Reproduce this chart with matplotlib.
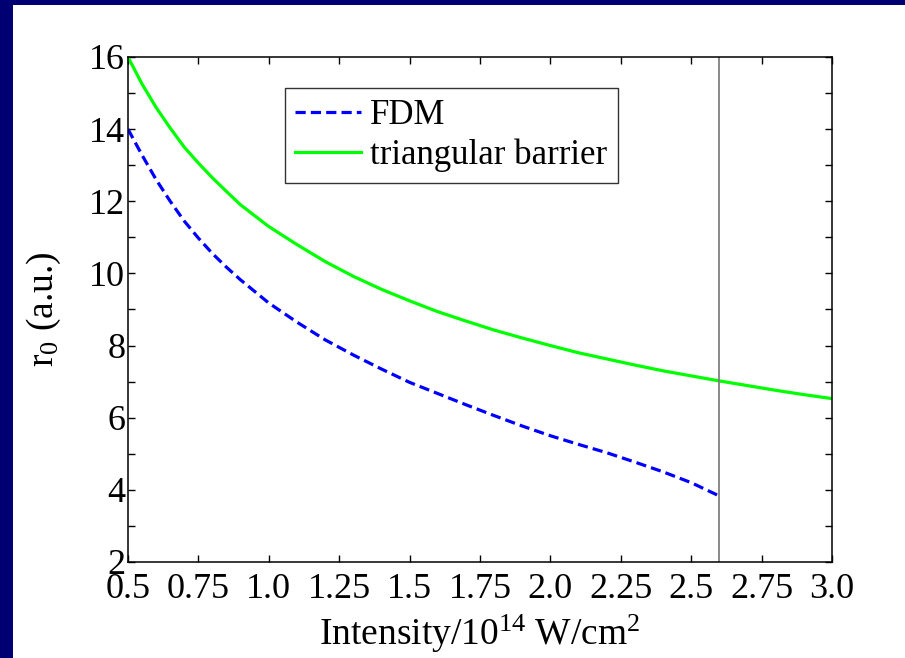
import matplotlib
matplotlib.use("Agg")
import matplotlib.pyplot as plt
from matplotlib.patches import Rectangle

plt.rcParams['font.family'] = ['Liberation Serif', 'DejaVu Serif']
plt.rcParams['mathtext.fontset'] = 'custom'
plt.rcParams['mathtext.rm'] = 'Liberation Serif'
plt.rcParams['mathtext.it'] = 'Liberation Serif:italic'

# laser intensity in units of 1e14 W/cm^2
intensity = [0.5, 0.55, 0.6, 0.65, 0.7, 0.75, 0.8, 0.85, 0.9, 0.95, 1.0, 1.1,
             1.2, 1.3, 1.4, 1.5, 1.6, 1.7, 1.8, 1.9, 2.0, 2.1, 2.2, 2.3, 2.4,
             2.5, 2.6, 2.7, 2.8, 2.9, 3.0]
# tunnel exit r0 (a.u.), triangular barrier estimate
r0_triangular = [16.0, 15.25, 14.6, 14.03, 13.5, 13.06, 12.65, 12.27, 11.9,
                 11.6, 11.3, 10.8, 10.33, 9.92, 9.56, 9.24, 8.94, 8.68, 8.43,
                 8.21, 8.0, 7.8, 7.63, 7.46, 7.30, 7.16, 7.02, 6.89, 6.76,
                 6.64, 6.53]
# FDM result, only up to the barrier-suppression intensity
intensity_fdm = [0.5, 0.55, 0.6, 0.65, 0.7, 0.75, 0.8, 0.85, 0.9, 0.95, 1.0,
                 1.1, 1.2, 1.3, 1.4, 1.5, 1.6, 1.7, 1.8, 1.9, 2.0, 2.1, 2.2,
                 2.3, 2.4, 2.5, 2.6]
r0_fdm = [14.0, 13.28, 12.6, 12.0, 11.45, 10.98, 10.55, 10.17, 9.82, 9.5,
          9.18, 8.65, 8.16, 7.74, 7.35, 6.98, 6.67, 6.36, 6.06, 5.77, 5.5,
          5.26, 5.03, 4.77, 4.50, 4.20, 3.83]
I_bsi = 2.6

xticks = [0.5, 0.75, 1.0, 1.25, 1.5, 1.75, 2.0, 2.25, 2.5, 2.75, 3.0]
xticklabels = ['0.5', '0.75', '1.0', '1.25', '1.5', '1.75', '2.0', '2.25',
               '2.5', '2.75', '3.0']

fig = plt.figure(figsize=(9.05, 6.58), dpi=100)
fig.patch.set_facecolor('#000073')
# white slide panel behind the axes
panel = Rectangle((13 / 905, 0), 1, 1 - 5 / 658, transform=fig.transFigure,
                  facecolor='white', edgecolor='none', zorder=-10)
fig.add_artist(panel)

ax = fig.add_axes([0.1414, 0.1459, 0.7779, 0.7675])
ax.set_zorder(1)
ax.plot(intensity_fdm, r0_fdm, color='#0000ff', lw=2.3, ls=(0, (3.2, 1.6)), label='FDM')
ax.plot(intensity, r0_triangular, color='#00ff00', lw=2.3, label='triangular barrier')
ax.axvline(I_bsi, color='#808080', lw=1.3)

ax.set_xlim(0.5, 3.0)
ax.set_ylim(2, 16)
ax.set_xticks(xticks)
ax.set_xticklabels(xticklabels)
ax.set_yticks(range(2, 17, 2))
ax.set_yticks(range(3, 16, 2), minor=True)
ax.tick_params(which='both', direction='in', top=True, right=True,
               length=5, width=1, labelsize=26, pad=2)
ax.tick_params(axis='x', pad=8)
for s in ax.spines.values():
    s.set_linewidth(1.1)

ax.set_xlabel('Intensity/10$^{14}$ W/cm$^{2}$', fontsize=27, labelpad=5)
ax.set_ylabel('r$_0$ (a.u.)', fontsize=27, labelpad=19)

leg = ax.legend(loc='upper left', bbox_to_anchor=(0.223, 0.938), fontsize=25,
                frameon=True, fancybox=False, handlelength=1.9, handletextpad=0.25,
                borderpad=0.3, labelspacing=0.2, borderaxespad=0)
leg.get_frame().set_edgecolor('black')
leg.get_frame().set_linewidth(1.0)

fig.savefig('out.png', dpi=100, facecolor=fig.get_facecolor())
